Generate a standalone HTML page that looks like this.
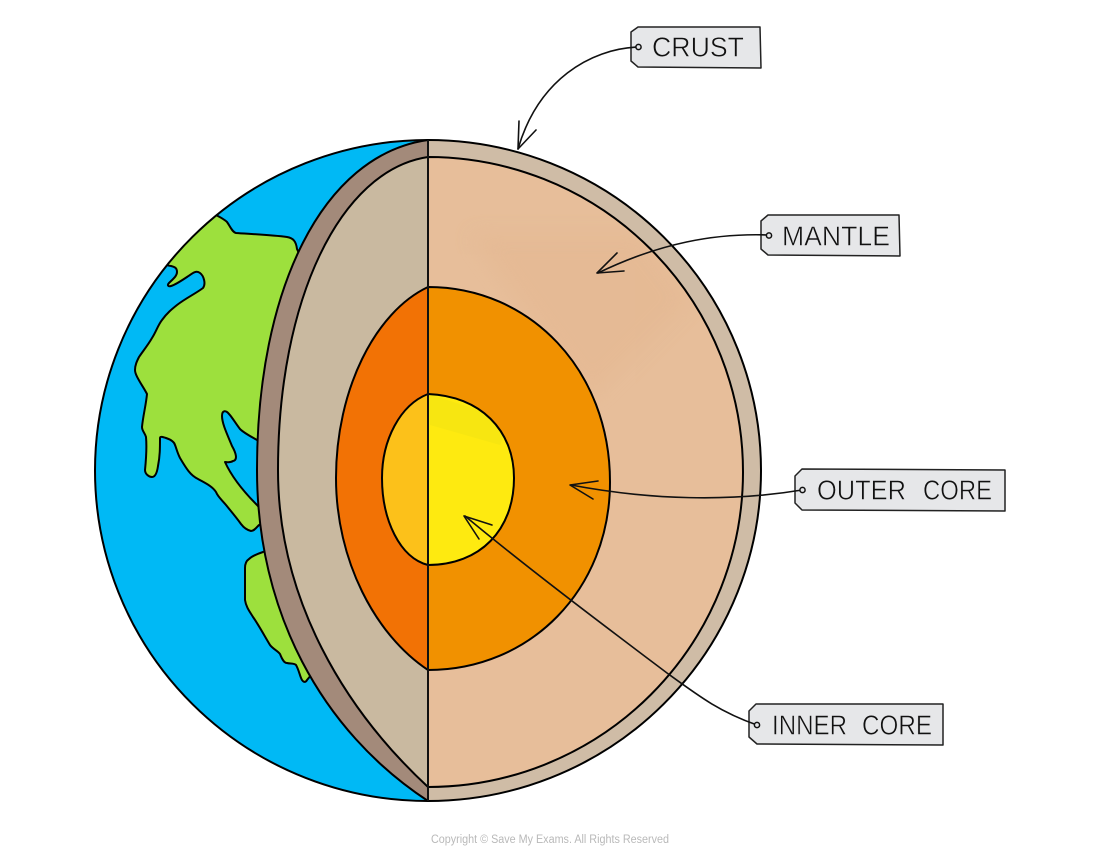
<!DOCTYPE html>
<html>
<head>
<meta charset="utf-8">
<style>
html,body{margin:0;padding:0;background:#fff;}
svg{display:block;}
text{font-family:"Liberation Sans",sans-serif;}
</style>
</head>
<body>
<svg width="1100" height="858" viewBox="0 0 1100 858" xmlns="http://www.w3.org/2000/svg">
<defs>
<clipPath id="g"><ellipse cx="428" cy="470.5" rx="333" ry="330.5"/></clipPath>
<clipPath id="m"><path d="M428,157 A315,315 0 0 1 428,787 Z"/></clipPath>
<clipPath id="y"><path d="M428,394 C480,396 514,430 514,478 C514,530 480,565 428,565 Z"/></clipPath>
<filter id="b" x="-20%" y="-20%" width="140%" height="140%"><feGaussianBlur stdDeviation="10"/></filter>
</defs>
<!-- globe -->
<ellipse cx="428" cy="470.5" rx="333" ry="330.5" fill="#00b9f5"/>
<g clip-path="url(#g)" fill="#9de03d" stroke="#000" stroke-width="2" stroke-linejoin="round">
<path d="M214,214 C220,217 224,219 227,222 C230,226 232,232 236,233 C250,234 272,235 287,237 C293,238 296,241 297,249 L320,300 L300,470 L257,440 C250,436 244,433 240,429 C236,424 232,417 229,414 C226,410 222,410 222,416 C222,424 228,436 232,446 C236,453 238,460 233,461 C230,463 227,462 225,462 C230,473 240,488 257,505 L270,520 L259,525 C256,528 254,531 251,531 C247,530 244,528 241,524 C236,517 230,510 226,505 C222,500 218,497 216,492 C212,486 205,483 198,479 C190,475 186,468 180,458 C177,452 176,447 175,445 C174,441 169,439 166,438 C163,437 160,436 160,438 C160,448 160,456 158,466 C157,473 155,477 152,477 C149,477 145,474 145,470 C146,460 147,448 146,437 C145,433 142,431 142,427 C143,416 146,405 147,394 C143,386 135,376 135,370 C135,365 137,361 139,357 C143,351 148,345 152,338 C156,332 158,325 162,320 C167,313 172,309 177,305 C186,298 195,294 203,288 C206,284 204,276 200,273 C196,270 193,273 187,277 C181,281 175,285 171,286 C168,287 167,285 169,283 C173,279 177,276 177,272 C177,268 175,267 171,266 C168,266 165,264 164,262 L130,200 Z"/>
<path d="M263,552 C257,554 252,556 249,559 C246,561 245,564 245,568 C245,578 245,590 245,600 C246,607 250,612 253,617 C258,624 264,635 270,645 C273,649 278,651 280,654 C282,659 284,663 287,663 C290,664 294,663 296,665 C299,670 300,677 302,680 C304,683 306,682 307,680 L340,640 L290,540 Z"/>
</g>
<!-- cut-away left -->
<path d="M428,140 C322,155 257,290 257,470 C257,610 320,730 428,801 Z" fill="#a38a7a" stroke="#000" stroke-width="2" stroke-linejoin="round"/>
<path d="M428,157 C340,170 278,300 278,470 C278,600 345,710 428,787 Z" fill="#c9b9a0" stroke="#000" stroke-width="2" stroke-linejoin="round"/>
<!-- right half -->
<path d="M428,140 A333,330.5 0 0 1 428,801 Z" fill="#cfbca6"/>
<path d="M428,157 A315,315 0 0 1 428,787 Z" fill="#e7be9a"/>
<g clip-path="url(#m)">
<path d="M470,235 L640,235 L690,300 L590,400 L560,360 Z" fill="#e3b68f" opacity=".45" filter="url(#b)"/>
</g>
<path d="M428,157 A315,315 0 0 1 428,787 Z" fill="none" stroke="#000" stroke-width="2"/>
<!-- outer core -->
<path d="M428,287 C375,312 336,390 336,478 C336,560 375,635 428,670 Z" fill="#f27205" stroke="#000" stroke-width="2" stroke-linejoin="round"/>
<path d="M428,287 C530,287 610,370 610,482 C610,590 530,670 428,670 Z" fill="#f19100" stroke="#000" stroke-width="2" stroke-linejoin="round"/>
<!-- inner core -->
<path d="M428,394 C400,405 382,440 382,478 C382,520 400,558 428,565 Z" fill="#fcc11a" stroke="#000" stroke-width="2" stroke-linejoin="round"/>
<path d="M428,394 C480,396 514,430 514,478 C514,530 480,565 428,565 Z" fill="#feea10"/>
<g clip-path="url(#y)"><path d="M428,394 L510,420 L500,445 L430,425 Z" fill="#f5e512" opacity=".8"/></g>
<path d="M428,394 C480,396 514,430 514,478 C514,530 480,565 428,565" fill="none" stroke="#000" stroke-width="2"/>
<!-- outer outline & centre line -->
<ellipse cx="428" cy="470.5" rx="333" ry="330.5" fill="none" stroke="#000" stroke-width="2"/>
<line x1="428" y1="140" x2="428" y2="801" stroke="#111" stroke-width="2"/>
<!-- tags -->
<g fill="#e6e7e9" stroke="#222" stroke-width="1.5" stroke-linejoin="round">
<path d="M631,32 L638,27 L760,27 L761,68 L638,67 L631,61 Z"/>
<path d="M761,221 L768,215 L899,215 L900,256 L768,255 L761,249 Z"/>
<path d="M795,476 L802,469 L1005,470 L1005,511 L802,510 L795,503 Z"/>
<path d="M749,711 L756,704 L943,704 L943,745 L757,744 L749,737 Z"/>
</g>
<!-- connectors -->
<g fill="none" stroke="#111" stroke-width="1.6" stroke-linecap="round" stroke-linejoin="round">
<path d="M638,47 C590,49 538,80 518,149"/>
<path d="M519,121 L518,149 L536,130"/>
<path d="M769,235 C715,233 660,243 598,273"/>
<path d="M802,490 C730,502 650,500 571,485"/>
<path d="M617,253 L597,273 L624,271"/>
<path d="M598,481 L570,485 L593,499"/>
<path d="M757,725 C720,712 700,697 667,673 C610,630 530,570 465,516"/>
<path d="M492,525 L464,516 L479,539"/>
</g>
<g fill="#e6e7e9" stroke="#111" stroke-width="1.5">
<circle cx="638.5" cy="47" r="2.6"/>
<circle cx="769" cy="235.5" r="2.6"/>
<circle cx="802.5" cy="490" r="2.6"/>
<circle cx="757" cy="725" r="2.6"/>
</g>
<g fill="#111" font-size="28" stroke="#e6e7e9" stroke-width=".55">
<text x="652" y="56.5" textLength="92" lengthAdjust="spacingAndGlyphs">CRUST</text>
<text x="782" y="245.5" textLength="108" lengthAdjust="spacingAndGlyphs">MANTLE</text>
<text x="817" y="499.5" textLength="89" lengthAdjust="spacingAndGlyphs">OUTER</text>
<text x="923" y="499.5" textLength="69" lengthAdjust="spacingAndGlyphs">CORE</text>
<text x="772" y="734.5" textLength="75" lengthAdjust="spacingAndGlyphs">INNER</text>
<text x="862" y="734.5" textLength="70" lengthAdjust="spacingAndGlyphs">CORE</text>
</g>
<text x="431" y="843" font-size="11.5" fill="#b9b9b9" textLength="238" lengthAdjust="spacingAndGlyphs">Copyright © Save My Exams. All Rights Reserved</text>
</svg>
</body>
</html>
